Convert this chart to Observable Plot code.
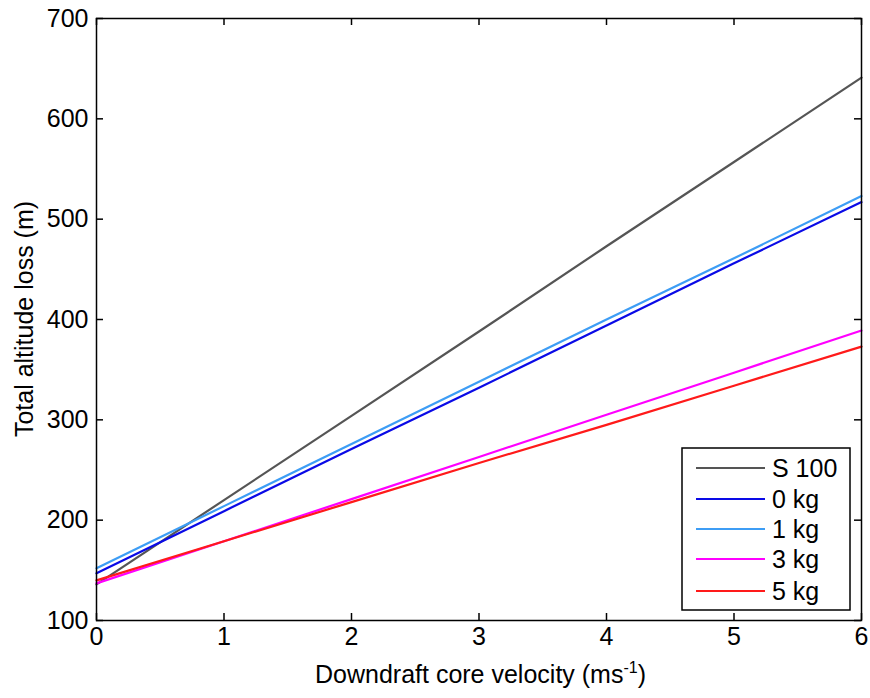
<!DOCTYPE html>
<html><head><meta charset="utf-8">
<script src="https://cdn.jsdelivr.net/npm/d3@7"></script>
<script src="https://cdn.jsdelivr.net/npm/@observablehq/plot@0.6"></script>
<style>body{margin:0;background:#fff}</style>
</head><body><div id="chart"></div>
<script>
// Data
const velocity = [0, 1, 2, 3, 4, 5, 6];
const seriesNames = ["S 100", "0 kg", "1 kg", "3 kg", "5 kg"];
const lossS100 = [136, 220, 304, 388, 473, 557, 641];
const loss0kg  = [147, 209, 271, 332, 394, 456, 517];
const loss1kg  = [152, 214, 276, 338, 400, 461, 523];
const loss3kg  = [137, 179, 221, 263, 305, 347, 389];
const loss5kg  = [140, 179, 218, 257, 295, 334, 373];
const seriesColors = ["#555555", "#0a0ae6", "#3d9df5", "#ff00ff", "#ff1a1a"];
const xTicks = [0, 1, 2, 3, 4, 5, 6];
const yTicks = [100, 200, 300, 400, 500, 600, 700];
const xLabel = "Downdraft core velocity (ms";
const xLabelSup = "-1";
const yLabel = "Total altitude loss (m)";

const allLoss = [lossS100, loss0kg, loss1kg, loss3kg, loss5kg];
const rows = [];
seriesNames.forEach((name, i) => {
  velocity.forEach((v, j) => rows.push({series: name, v, loss: allLoss[i][j]}));
});

const W = 870, H = 698, mL = 96, mR = 9, mT = 18, mB = 78;
const plotH = H - mT - mB, plotW = W - mL - mR;
const font = "'Liberation Sans', Arial, sans-serif";

const chart = Plot.plot({
  width: W, height: H,
  marginLeft: mL, marginRight: mR, marginTop: mT, marginBottom: mB,
  style: {fontFamily: font, fontSize: "25px", color: "#000", background: "#fff", overflow: "visible"},
  x: {domain: [0, 6], label: null},
  y: {domain: [100, 700], label: null},
  color: {domain: seriesNames, range: seriesColors},
  marks: [
    Plot.line(rows, {x: "v", y: "loss", z: "series", stroke: "series", strokeWidth: 2.2}),
    Plot.tickX(xTicks, {x: d => d, insetTop: plotH - 7, stroke: "#000", strokeWidth: 1.5}),
    Plot.tickX(xTicks, {x: d => d, insetBottom: plotH - 7, stroke: "#000", strokeWidth: 1.5}),
    Plot.tickY(yTicks, {y: d => d, insetRight: plotW - 7, stroke: "#000", strokeWidth: 1.5}),
    Plot.tickY(yTicks, {y: d => d, insetLeft: plotW - 7, stroke: "#000", strokeWidth: 1.5}),
    Plot.frame({stroke: "#000", strokeWidth: 1.5}),
    Plot.axisX(xTicks, {tickSize: 0, tickPadding: 7, fontSize: 25, label: null, tickFormat: d3.format("d")}),
    Plot.axisY(yTicks, {tickSize: 0, tickPadding: 8, fontSize: 25, label: null, tickFormat: d3.format("d")})
  ]
});
document.getElementById("chart").appendChild(chart);

const svg = d3.select(chart);
// axis titles
const xt = svg.append("text")
  .attr("x", mL + plotW / 2 + 2).attr("y", 683)
  .attr("text-anchor", "middle")
  .attr("font-family", font).attr("font-size", 25).attr("fill", "#000");
xt.append("tspan").text(xLabel);
xt.append("tspan").attr("font-size", 16).attr("dy", -10).text(xLabelSup);
xt.append("tspan").attr("dy", 10).text(")");

svg.append("text")
  .attr("transform", `translate(33,${mT + plotH / 2}) rotate(-90)`)
  .attr("text-anchor", "middle")
  .attr("font-family", font).attr("font-size", 25).attr("fill", "#000")
  .text(yLabel);

// legend
const lg = svg.append("g").attr("text-anchor", "start");
lg.append("rect").attr("x", 682).attr("y", 448).attr("width", 168).attr("height", 162)
  .attr("fill", "#fff").attr("stroke", "#000").attr("stroke-width", 1.5);
const rowY = [468, 499, 529, 559, 591];
seriesNames.forEach((name, i) => {
  lg.append("line").attr("x1", 696).attr("x2", 765).attr("y1", rowY[i]).attr("y2", rowY[i])
    .attr("stroke", seriesColors[i]).attr("stroke-width", 2);
  lg.append("text").attr("x", 772).attr("y", rowY[i] + 9).attr("text-anchor", "start")
    .attr("font-family", font).attr("font-size", 25).attr("fill", "#000").text(name);
});
</script>
</body></html>
